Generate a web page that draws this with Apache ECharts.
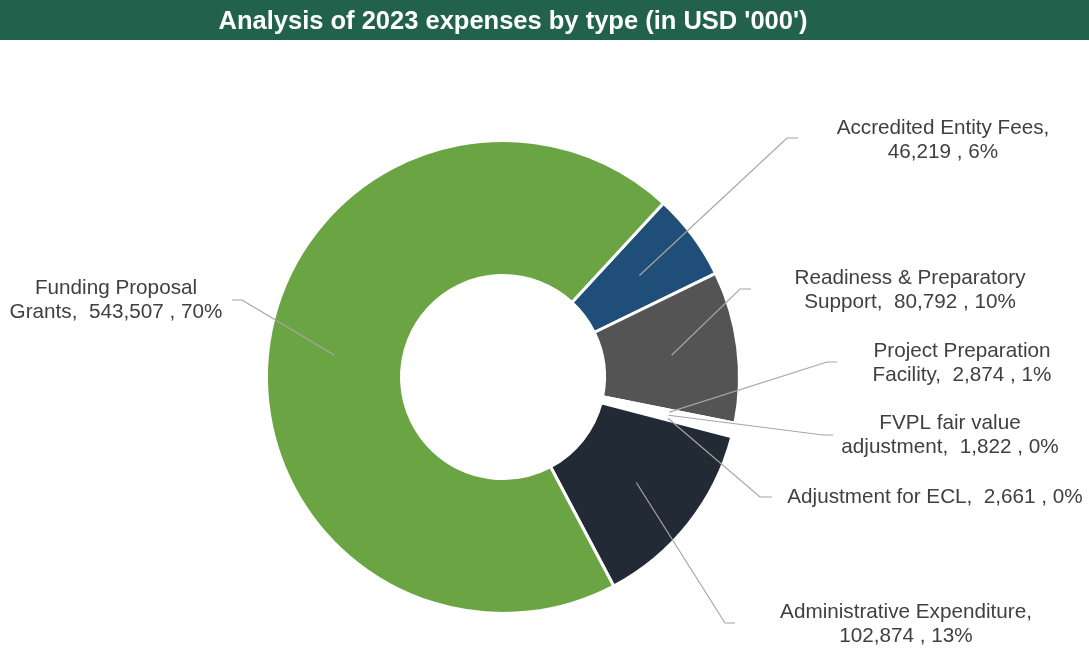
<!DOCTYPE html>
<html>
<head>
<meta charset="utf-8">
<script src="https://cdn.jsdelivr.net/npm/echarts@6/dist/echarts.min.js"></script>
<style>
  html, body { margin: 0; padding: 0; background: #ffffff; }
  #chart { width: 1089px; height: 648px; }
</style>
</head>
<body>
<div id="chart"></div>
<script>
// Expense categories (clockwise from the Accredited Entity Fees slice)
const categories = [
  'Accredited Entity Fees',
  'Readiness & Preparatory\nSupport',
  'Project Preparation\nFacility',
  'FVPL fair value\nadjustment',
  'Adjustment for ECL',
  'Administrative Expenditure',
  'Funding Proposal\nGrants'
];
// Amounts in USD '000
const amounts = [46219, 80792, 2874, 1822, 2661, 102874, 543507];
// Whether the amount starts a new line in the label
const valueOnNewLine = [true, false, false, false, false, true, false];

const titleText = "Analysis of 2023 expenses by type (in USD '000')";

// Styling
const sliceColors = ['#1F4E79', '#545454', '#FFFFFF', '#F4F4F4', '#FFFFFF', '#222A35', '#6AA443'];
const CENTER = [503, 377];
const R_IN = 101.5;
const R_OUT = 236.5;
const START_ANGLE = 47.3;
const LEADER_R = 170;   // leader lines start halfway across the ring

// Label placement: text centre, leader elbow and leader end
const labelSpots = [
  { x: 943, y: 140, elbow: [787, 138], end: [798, 138] },
  { x: 910, y: 290, elbow: [740, 289], end: [751, 289] },
  { x: 962, y: 363, elbow: [827, 362], end: [837, 362] },
  { x: 950, y: 435, elbow: [823, 435], end: [833, 435] },
  { x: 935, y: 497, elbow: [760, 497], end: [772, 497] },
  { x: 906, y: 624, elbow: [725, 623], end: [735, 623] },
  { x: 116, y: 300, elbow: [242, 300], end: [232, 300] }
];

const total = amounts.reduce((a, b) => a + b, 0);

// Point inside the ring at the middle angle of slice i
function leaderStart(i) {
  let before = 0;
  for (let k = 0; k < i; k++) before += amounts[k];
  const midFrac = (before + amounts[i] / 2) / total;
  const theta = (START_ANGLE - midFrac * 360) * Math.PI / 180;
  return [CENTER[0] + LEADER_R * Math.cos(theta), CENTER[1] - LEADER_R * Math.sin(theta)];
}

function fmtNum(v) {
  return v.toString().replace(/\B(?=(\d{3})+(?!\d))/g, ',');
}

const pieData = categories.map((name, i) => ({
  name: name,
  value: amounts[i],
  itemStyle: { color: sliceColors[i] }
}));

const chart = echarts.init(document.getElementById('chart'), null, { renderer: 'canvas' });

chart.setOption({
  backgroundColor: '#ffffff',
  animation: false,
  graphic: [
    {
      type: 'rect',
      z: 0,
      shape: { x: 0, y: 0, width: 1089, height: 40 },
      style: { fill: '#22614B' },
      silent: true
    },
    {
      type: 'text',
      z: 1,
      x: 513,
      y: 22,
      style: {
        text: titleText,
        fill: '#ffffff',
        font: 'bold 25.5px "Liberation Sans", Arial, sans-serif',
        align: 'center',
        verticalAlign: 'middle'
      },
      silent: true
    }
  ],
  series: [
    {
      // the doughnut itself
      type: 'pie',
      center: CENTER,
      radius: [R_IN, R_OUT],
      startAngle: START_ANGLE,
      clockwise: true,
      avoidLabelOverlap: false,
      percentPrecision: 0,
      silent: true,
      itemStyle: { borderColor: '#ffffff', borderWidth: 3 },
      emphasis: { disabled: true },
      label: { show: false },
      labelLine: { show: false },
      data: pieData
    },
    {
      // transparent ring carrying the data labels, so leaders start mid-ring
      type: 'pie',
      center: CENTER,
      radius: [R_IN, LEADER_R],
      startAngle: START_ANGLE,
      clockwise: true,
      avoidLabelOverlap: false,
      percentPrecision: 0,
      silent: true,
      z: 3,
      itemStyle: { color: 'rgba(0,0,0,0)', borderWidth: 0 },
      emphasis: { disabled: true },
      label: {
        show: true,
        position: 'outside',
        color: '#404040',
        fontSize: 20.7,
        lineHeight: 24,
        fontFamily: '"Liberation Sans", Arial, sans-serif',
        align: 'center',
        overflow: 'none',
        formatter: function (p) {
          const i = p.dataIndex;
          return p.name + ',' + (valueOnNewLine[i] ? '\n' : '  ') +
            fmtNum(p.value) + ' , ' + p.percent + '%';
        }
      },
      labelLine: {
        show: true,
        length: 10,
        length2: 10,
        lineStyle: { color: '#A6A6A6', width: 1.2 }
      },
      labelLayout: function (p) {
        const s = labelSpots[p.dataIndex];
        return {
          x: s.x,
          y: s.y,
          align: 'center',
          verticalAlign: 'middle',
          labelLinePoints: [leaderStart(p.dataIndex), s.elbow, s.end]
        };
      },
      data: categories.map((name, i) => ({ name: name, value: amounts[i] }))
    }
  ]
});
</script>
</body>
</html>
